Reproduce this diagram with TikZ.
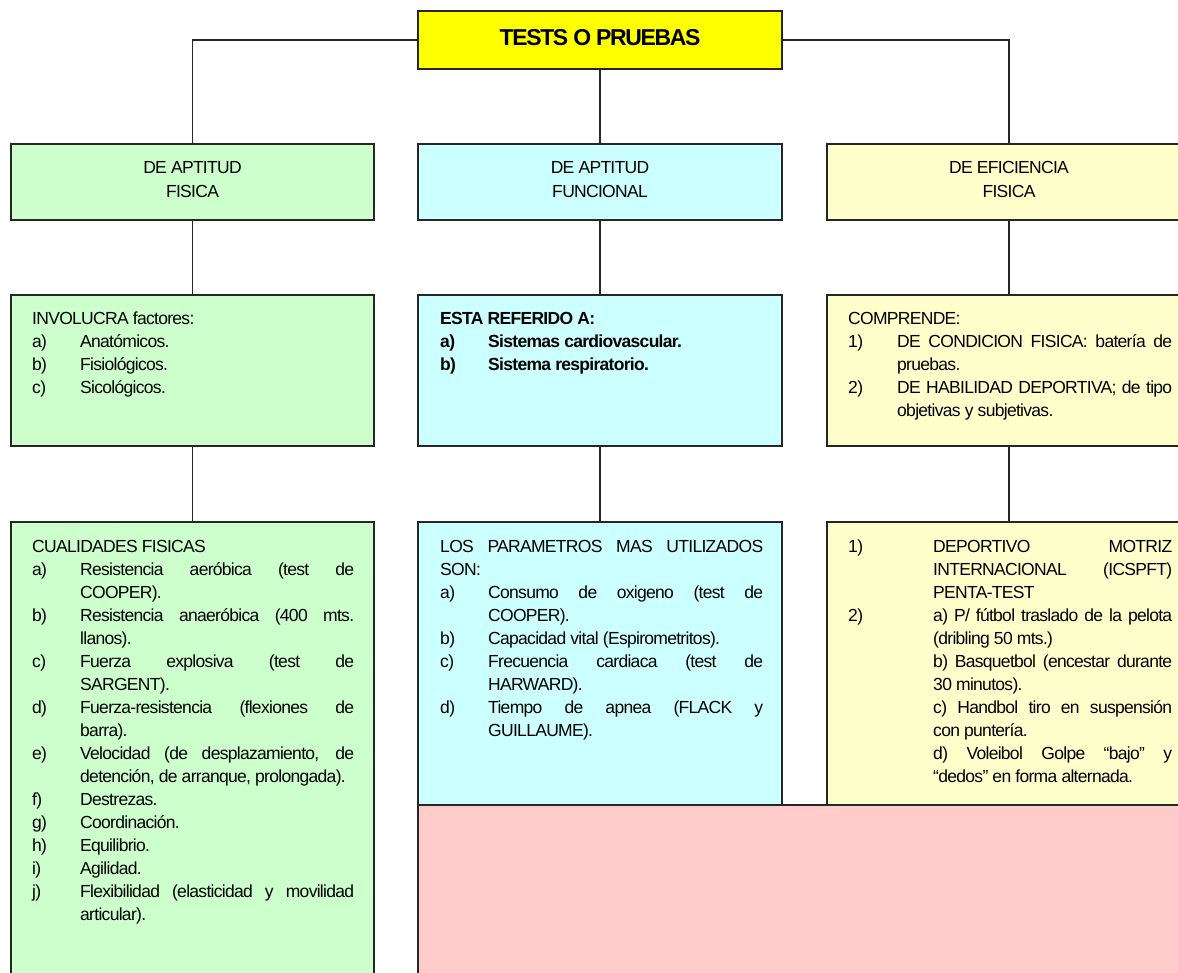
\documentclass[tikz,border=0pt]{standalone}
\usepackage{fontspec}
\setmainfont{Liberation Sans}[LetterSpace=-4]
\definecolor{topy}{HTML}{FFFF00}
\definecolor{gr}{HTML}{CCFFCC}
\definecolor{cy}{HTML}{CCFFFF}
\definecolor{ye}{HTML}{FFFFCC}
\definecolor{pk}{HTML}{FFCCCC}
\newcommand\fsx{\rule{0pt}{16pt}}
\newcommand\lbx[2][48pt]{\makebox[#1][l]{#2}}
\newcommand\indx[1][48pt]{\hspace*{#1}}
\newcommand\jlx[2]{\makebox[#1][s]{#2}}
\begin{document}
\begin{tikzpicture}[x=1pt,y=-1pt,
  box/.style={draw=black!85, line width=1.4pt, rectangle, inner sep=0pt, outer sep=0pt, anchor=north west},
  conn/.style={draw=black!85, line width=1.1pt},
  hd/.style={anchor=north, align=center, inner sep=0pt, font=\fontsize{17.5}{24}\selectfont},
  txt/.style={anchor=north west, inner sep=0pt, align=left, font=\fontsize{17.5}{23}\selectfont}]
\useasboundingbox (0,0) rectangle (1178,972);
\clip (0,0) rectangle (1178,972);
% boxes
\node[box, fill=topy, minimum width=364pt, minimum height=58pt] (top) at (418,11) {};
\node[box, fill=gr, minimum width=363pt, minimum height=76pt] (h1) at (11,144) {};
\node[box, fill=cy, minimum width=364pt, minimum height=76pt] (h2) at (418,144) {};
\node[box, fill=ye, minimum width=364pt, minimum height=76pt] (h3) at (827,144) {};
\node[box, fill=gr, minimum width=363pt, minimum height=151pt] (m1) at (11,295) {};
\node[box, fill=cy, minimum width=364pt, minimum height=151pt] (m2) at (418,295) {};
\node[box, fill=ye, minimum width=364pt, minimum height=151pt] (m3) at (827,295) {};
\node[box, fill=gr, minimum width=363pt, minimum height=500pt] (b1) at (11,522) {};
\node[box, fill=cy, minimum width=364pt, minimum height=283pt] (b2) at (418,522) {};
\node[box, fill=ye, minimum width=364pt, minimum height=283pt] (b3) at (827,522) {};
\node[box, fill=pk, minimum width=800pt, minimum height=220pt] (pk) at (418,805) {};
% connectors
\draw[conn] (top.west) -| (h1.north);
\draw[conn] (top.east) -| (h3.north);
\draw[conn] (top.south) -- (h2.north);
\draw[conn] (h1.south) -- (m1.north);
\draw[conn] (h2.south) -- (m2.north);
\draw[conn] (h3.south) -- (m3.north);
\draw[conn] (m1.south) -- (b1.north);
\draw[conn] (m2.south) -- (b2.north);
\draw[conn] (m3.south) -- (b3.north);
% texts
\node[anchor=base, inner sep=0pt, font=\bfseries\fontsize{23}{28}\selectfont\addfontfeature{LetterSpace=-6}] (toptxt) at (600,45) {TESTS O PRUEBAS};
\node[hd] (t1) at (192.5,157) {\fsx DE APTITUD\\FISICA};
\node[hd] (t2) at (600,157) {\fsx DE APTITUD\\FUNCIONAL};
\node[hd] (t3) at (1009,157) {\fsx DE EFICIENCIA\\FISICA};
\node[txt] (m1t) at (32,308) {\fsx INVOLUCRA factores:\\
\lbx{a)}Anatómicos.\\
\lbx{b)}Fisiológicos.\\
\lbx{c)}Sicológicos.};
\node[txt, font=\bfseries\fontsize{17.5}{23}\selectfont] (m2t) at (440,308) {\fsx ESTA REFERIDO A:\\
\lbx{a)}Sistemas cardiovascular.\\
\lbx{b)}Sistema respiratorio.};
\node[txt] (m3t) at (848,308) {\fsx COMPRENDE:\\
\lbx[49pt]{1)}\jlx{275pt}{DE CONDICION FISICA: batería de}\\
\indx[49pt]pruebas.\\
\lbx[49pt]{2)}\jlx{275pt}{DE HABILIDAD DEPORTIVA; de tipo}\\
\indx[49pt]objetivas y subjetivas.};
\node[txt] (b1t) at (32,536) {\fsx CUALIDADES FISICAS\\
\lbx{a)}\jlx{274pt}{Resistencia aeróbica (test de}\\
\indx COOPER).\\
\lbx{b)}\jlx{274pt}{Resistencia anaeróbica (400 mts.}\\
\indx llanos).\\
\lbx{c)}\jlx{274pt}{Fuerza explosiva (test de}\\
\indx SARGENT).\\
\lbx{d)}\jlx{274pt}{Fuerza-resistencia (flexiones de}\\
\indx barra).\\
\lbx{e)}\jlx{274pt}{Velocidad (de desplazamiento, de}\\
\indx detención, de arranque, prolongada).\\
\lbx{f)}Destrezas.\\
\lbx{g)}Coordinación.\\
\lbx{h)}Equilibrio.\\
\lbx{i)}Agilidad.\\
\lbx{j)}\jlx{274pt}{Flexibilidad (elasticidad y movilidad}\\
\indx articular).};
\node[txt] (b2t) at (440,536) {\fsx\jlx{323pt}{LOS PARAMETROS MAS UTILIZADOS}\\
SON:\\
\lbx{a)}\jlx{275pt}{Consumo de oxigeno (test de}\\
\indx COOPER).\\
\lbx{b)}Capacidad vital (Espirometritos).\\
\lbx{c)}\jlx{275pt}{Frecuencia cardiaca (test de}\\
\indx HARWARD).\\
\lbx{d)}\jlx{275pt}{Tiempo de apnea (FLACK y}\\
\indx GUILLAUME).};
\node[txt] (b3t) at (848,536) {\fsx\lbx[85pt]{1)}\jlx{239pt}{DEPORTIVO MOTRIZ}\\
\indx[85pt]\jlx{239pt}{INTERNACIONAL (ICSPFT)}\\
\indx[85pt]PENTA-TEST\\
\lbx[85pt]{2)}\jlx{239pt}{a) P/ fútbol traslado de la pelota}\\
\indx[85pt](dribling 50 mts.)\\
\indx[85pt]\jlx{239pt}{b) Basquetbol (encestar durante}\\
\indx[85pt]30 minutos).\\
\indx[85pt]\jlx{239pt}{c) Handbol tiro en suspensión}\\
\indx[85pt]con puntería.\\
\indx[85pt]\jlx{239pt}{d) Voleibol Golpe “bajo” y}\\
\indx[85pt]“dedos” en forma alternada.};
\end{tikzpicture}
\end{document}
